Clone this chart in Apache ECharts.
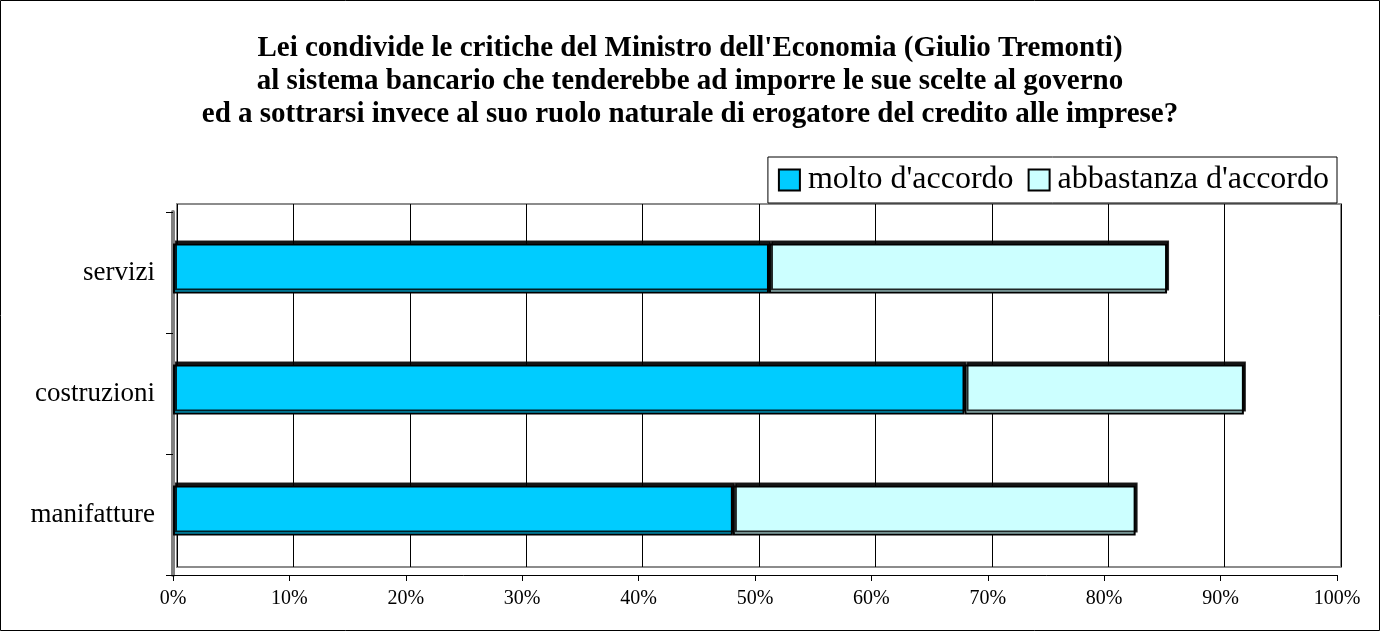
<!DOCTYPE html>
<html>
<head>
<meta charset="utf-8">
<script src="https://cdn.jsdelivr.net/npm/echarts@6/dist/echarts.min.js"></script>
<style>
  html, body { margin: 0; padding: 0; background: #fff; }
  #chart { width: 1380px; height: 631px; }
</style>
</head>
<body>
<div id="chart"></div>
<script>
// Survey answers by sector (share of respondents, %)
const categories = ['manifatture', 'costruzioni', 'servizi'];
const molto = [48.1, 68.0, 51.2];
const abbastanza = [34.6, 24.0, 34.2];
const seriesNames = ["molto d'accordo", "abbastanza d'accordo"];
const tickValues = [0, 10, 20, 30, 40, 50, 60, 70, 80, 90, 100];

const titleText = "Lei condivide le critiche del Ministro dell'Economia (Giulio Tremonti)\n" +
  "al sistema bancario che tenderebbe ad imporre le sue scelte al governo\n" +
  "ed a sottrarsi invece al suo ruolo naturale di erogatore del credito alle imprese?";

const serif = "'Liberation Serif', 'Times New Roman', serif";
const chart = echarts.init(document.getElementById('chart'));

const barStyle = (color) => ({
  color: color,
  borderColor: '#000',
  borderWidth: 2,
  shadowColor: 'rgba(0,0,0,0.85)',
  shadowOffsetX: 2,
  shadowOffsetY: -3,
  shadowBlur: 0
});

chart.setOption({
  backgroundColor: '#fff',
  animation: false,
  graphic: [{
    type: 'rect',
    shape: { x: 0.5, y: 0.5, width: 1379, height: 630 },
    style: { fill: 'none', stroke: '#000', lineWidth: 1 },
    silent: true
  }],
  title: {
    text: titleText,
    left: 'center',
    top: 27,
    textStyle: {
      fontFamily: serif,
      fontWeight: 'bold',
      fontSize: 29,
      lineHeight: 33,
      color: '#000'
    }
  },
  legend: {
    data: seriesNames,
    right: 43,
    top: 157,
    orient: 'horizontal',
    backgroundColor: '#fff',
    borderColor: '#000',
    borderWidth: 1,
    padding: [7, 8, 7, 10],
    itemGap: 14,
    itemWidth: 21,
    itemHeight: 21,
    icon: 'rect',
    textStyle: { fontFamily: serif, fontSize: 32, color: '#000', padding: [0, 0, 0, 3] }
  },
  grid: [
    // back wall with gridlines
    { left: 177, top: 204, right: 39, bottom: 64, show: true, borderColor: '#8c8c8c', borderWidth: 2, backgroundColor: '#fff' },
    // front axes
    { left: 173, top: 212, right: 43, bottom: 56 },
    // bars
    { left: 173, top: 208, right: 43, bottom: 60 }
  ],
  xAxis: [
    {
      gridIndex: 0, type: 'value', min: 0, max: 100, interval: 10,
      axisLine: { show: false }, axisTick: { show: false }, axisLabel: { show: false },
      splitLine: { show: true, lineStyle: { color: '#000', width: 1 } }
    },
    {
      gridIndex: 1, type: 'value', min: 0, max: 100, interval: 10,
      axisLine: { show: true, lineStyle: { color: '#000', width: 1 } },
      axisTick: { show: true, length: 6, lineStyle: { color: '#000' } },
      axisLabel: { formatter: '{value}%', fontFamily: serif, fontSize: 20, color: '#000', margin: 14 },
      splitLine: { show: false }
    },
    {
      gridIndex: 2, type: 'value', min: 0, max: 100, interval: 10, show: false
    }
  ],
  yAxis: [
    { gridIndex: 0, type: 'category', data: categories, show: false },
    {
      gridIndex: 1, type: 'category', data: categories,
      axisLine: { show: true, lineStyle: { color: '#808080', width: 4 } },
      axisTick: { show: true, length: 7, lineStyle: { color: '#000' } },
      axisLabel: { fontFamily: serif, fontSize: 27, color: '#000', margin: 18 }
    },
    { gridIndex: 2, type: 'category', data: categories, show: false }
  ],
  series: [
    {
      name: seriesNames[0], type: 'bar', stack: 'tot',
      xAxisIndex: 2, yAxisIndex: 2, barWidth: 50,
      data: molto, itemStyle: barStyle('#00ccff')
    },
    {
      name: seriesNames[1], type: 'bar', stack: 'tot',
      xAxisIndex: 2, yAxisIndex: 2, barWidth: 50,
      data: abbastanza, itemStyle: barStyle('#ccffff')
    }
  ]
});
</script>
</body>
</html>
